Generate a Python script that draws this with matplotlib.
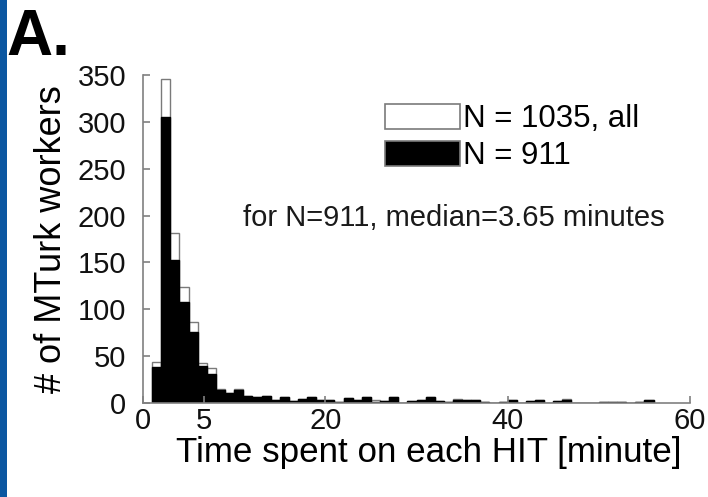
import numpy as np
import matplotlib
matplotlib.use("Agg")
import matplotlib.pyplot as plt
from matplotlib.patches import Rectangle, Patch

# bins of 1 minute, left edges start at 1
left_edges = np.arange(1, 56)
all_counts = [44, 346, 181, 124, 86, 43, 37, 15, 11, 15, 8, 7, 8, 3, 7, 2, 4, 6, 3, 3,
              1, 5, 3, 7, 3, 2, 6, 0, 2, 3, 7, 2, 1, 4, 3, 3, 1, 0, 1, 3,
              0, 2, 3, 0, 2, 4, 0, 0, 0, 1, 1, 1, 0, 1, 3]
sel_counts = [39, 305, 153, 108, 76, 40, 31, 14, 11, 14, 8, 7, 8, 3, 7, 2, 4, 6, 3, 3,
              1, 5, 3, 7, 1, 2, 6, 0, 2, 3, 7, 2, 1, 3, 3, 3, 1, 0, 1, 3,
              0, 2, 3, 0, 2, 3, 0, 0, 0, 1, 1, 1, 0, 1, 3]
xtick_pos = [0, 6.7, 20, 40, 60]
xtick_lab = ["0", "5", "20", "40", "60"]
ytick_pos = [0, 50, 100, 150, 200, 250, 300, 350]

plt.rcParams['font.family'] = ['Liberation Sans', 'DejaVu Sans']
axcol = "#808080"

fig = plt.figure(figsize=(7.08, 4.97), dpi=100)
ax = fig.add_axes([0.202, 0.189, 0.7726, 0.66])

ax.bar(left_edges, all_counts, width=1, align="edge", color="white",
       edgecolor="#7a7a7a", linewidth=1.0)
ax.bar(left_edges, sel_counts, width=1, align="edge", color="black",
       edgecolor="black", linewidth=1.0)

ax.set_xlim(0, 60)
ax.set_ylim(0, 350)
ax.set_xticks(xtick_pos)
ax.set_xticklabels(xtick_lab)
ax.set_yticks(ytick_pos)
for s in ["top", "right"]:
    ax.spines[s].set_visible(False)
for s in ["left", "bottom"]:
    ax.spines[s].set_color(axcol)
    ax.spines[s].set_linewidth(1.2)
ax.tick_params(direction="in", length=5, width=1.2, color=axcol,
               labelsize=21, labelcolor="#111111")
ax.tick_params(axis="y", pad=12)
ax.tick_params(axis="x", pad=3)

ax.set_xlabel("Time spent on each HIT [minute]", fontsize=25.2)
ax.xaxis.set_label_coords(0.523, -0.1)
ax.set_ylabel("# of MTurk workers", fontsize=26, labelpad=6)

handles = [Patch(facecolor="white", edgecolor="#7a7a7a", linewidth=1.2),
           Patch(facecolor="black", edgecolor="#7a7a7a", linewidth=1.2)]
ax.legend(handles, ["N = 1035, all", "N = 911"], loc="upper left",
          bbox_to_anchor=(385 / 708, 1 - 104 / 497), bbox_transform=fig.transFigure,
          frameon=False, fontsize=22.5, borderpad=0, borderaxespad=0,
          handlelength=2.4, handleheight=0.86, handletextpad=0.1, labelspacing=0.2)

ax.text(11.0, 198, "for N=911, median=3.65 minutes", fontsize=21,
        va="center", ha="left", color="#1a1a1a")

fig.text(6 / 708, 1 - 55 / 497, "A.", fontsize=46, fontweight="bold", ha="left",
         va="baseline")
fig.add_artist(Rectangle((0, 0), 7 / 708, 1, transform=fig.transFigure,
                         facecolor="#0b57a1", edgecolor="none"))

fig.savefig("out.png", dpi=100)
